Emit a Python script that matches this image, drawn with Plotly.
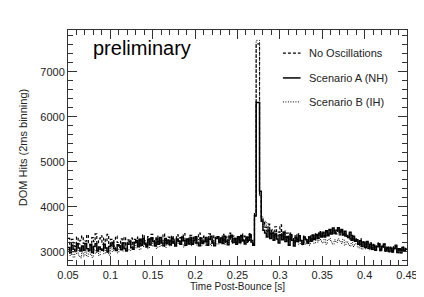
import plotly.graph_objects as go

bin_start = 0.05
bin_width = 0.002
n_bins = 200

no_osc = [
    3300,3150,3280,3200,3120,3330,3180,3260,3350,3190,
    3240,3380,3200,3150,3320,3230,3400,3180,3290,3360,
    3170,3310,3230,3390,3160,3280,3120,3250,3350,3210,
    3140,3290,3200,3330,3150,3270,3220,3310,3160,3280,
    3210,3330,3180,3290,3380,3220,3150,3340,3250,3390,
    3270,3170,3350,3230,3310,3200,3400,3260,3180,3330,
    3240,3360,3190,3300,3380,3210,3320,3250,3410,3230,
    3300,3180,3370,3260,3340,3200,3310,3420,3250,3190,
    3350,3230,3300,3400,3240,3190,3360,3280,3330,3220,
    3290,3390,3210,3330,3260,3420,3240,3350,3300,3200,
    3330,3240,3400,3270,3350,3210,3320,3410,3260,3180,
    3850,7620,7620,4250,3750,3650,3550,3460,3620,3400,
    3480,3350,3560,3320,3440,3600,3360,3470,3290,3420,
    3280,3420,3330,3220,3390,3280,3400,3260,3210,3350,
    3290,3230,3360,3270,3380,3300,3410,3340,3450,3360,
    3440,3360,3490,3390,3500,3420,3520,3430,3400,3510,
    3380,3470,3350,3420,3330,3400,3290,3370,3260,3330,
    3240,3180,3290,3160,3230,3130,3220,3120,3200,3090,
    3170,3070,3150,3200,3050,3130,3180,3040,3120,3060,
    3110,3030,3120,3150,3020,3090,3010,3110,3050,3080,
]

scenario_a = [
    3100,2980,3150,3060,3010,3180,3090,3020,3130,3040,
    3190,3070,3030,3160,2990,3120,3180,3020,3110,3060,
    3040,3170,3090,3000,3120,3150,3210,3070,3030,3160,
    3130,3050,3200,3080,3020,3170,3230,3100,3060,3210,
    3250,3120,3270,3150,3300,3180,3110,3280,3160,3310,
    3230,3130,3290,3170,3320,3200,3140,3300,3190,3260,
    3160,3310,3200,3130,3290,3230,3170,3330,3250,3150,
    3290,3180,3320,3170,3250,3340,3200,3140,3310,3190,
    3230,3320,3150,3280,3350,3200,3140,3300,3340,3210,
    3310,3190,3350,3240,3160,3330,3370,3210,3300,3170,
    3340,3210,3360,3250,3180,3330,3260,3380,3220,3150,
    3800,6320,6320,4350,3680,3480,3420,3330,3480,3300,
    3420,3260,3400,3290,3200,3380,3270,3430,3230,3340,
    3150,3380,3260,3130,3320,3230,3360,3250,3170,3330,
    3270,3200,3330,3240,3360,3280,3390,3300,3420,3330,
    3420,3330,3470,3360,3490,3400,3530,3410,3480,3540,
    3420,3500,3380,3460,3350,3320,3440,3260,3350,3240,
    3270,3170,3250,3120,3210,3100,3230,3080,3170,3060,
    3150,3040,3120,3180,3030,3110,3170,3020,3100,3010,
    3090,3000,3080,3130,2990,3070,2980,3100,3020,3060,
]

scenario_b = [
    3050,2920,3010,2880,2960,3060,2930,2870,3000,2910,
    3020,2900,3040,2950,2880,3060,2970,3070,2920,3030,
    3080,2960,3100,3000,2930,3110,3010,3130,3040,2980,
    3100,3160,3020,3120,3190,3060,3030,3170,3090,3200,
    3090,3200,3050,3230,3120,3250,3140,3080,3240,3130,
    3260,3140,3080,3230,3120,3290,3180,3100,3270,3160,
    3130,3240,3290,3150,3260,3180,3300,3160,3110,3280,
    3170,3290,3140,3250,3310,3190,3150,3300,3130,3270,
    3240,3150,3300,3190,3140,3280,3320,3180,3170,3300,
    3200,3310,3170,3290,3160,3270,3330,3190,3300,3220,
    3290,3180,3330,3220,3160,3310,3230,3340,3200,3170,
    3800,7700,7700,4250,3780,3560,3680,3480,3580,3380,
    3500,3320,3450,3270,3380,3490,3280,3400,3230,3330,
    3220,3340,3250,3180,3310,3220,3170,3260,3160,3220,
    3170,3250,3150,3230,3290,3190,3270,3220,3300,3240,
    3200,3280,3170,3260,3300,3220,3170,3270,3210,3290,
    3240,3190,3280,3150,3230,3180,3130,3210,3120,3180,
    3160,3090,3170,3060,3150,3070,3130,3050,3110,3040,
    3110,3030,3090,3130,3020,3080,3120,3010,3070,3000,
    3070,2990,3050,3090,2980,3040,2970,3060,3000,3050,
]

series_names = ["No Oscillations", "Scenario A (NH)", "Scenario B (IH)"]
x_ticks = [0.05, 0.1, 0.15, 0.2, 0.25, 0.3, 0.35, 0.4, 0.45]
x_ticklabels = ["0.05", "0.1", "0.15", "0.2", "0.25", "0.3", "0.35", "0.4", "0.45"]
y_ticks = [3000, 4000, 5000, 6000, 7000]

edges = [round(bin_start + i * bin_width, 4) for i in range(n_bins + 1)]

def step_y(vals):
    return list(vals) + [vals[-1]]

styles = [
    dict(color="black", width=1.2, dash="3px,2px"),
    dict(color="black", width=1.5, dash="solid"),
    dict(color="black", width=1.0, dash="1px,1.5px"),
]

fig = go.Figure()
for name, vals, st in zip(series_names, [no_osc, scenario_a, scenario_b], styles):
    fig.add_trace(go.Scatter(x=edges, y=step_y(vals), mode="lines", name=name,
                             line=dict(shape="hv", **st), showlegend=False))

font = "Liberation Sans, Arial, sans-serif"
axis_common = dict(showgrid=False, zeroline=False, showline=True, linecolor="#333",
                   linewidth=1, mirror="ticks", ticks="inside", ticklen=9, automargin=False,
                   tickcolor="#333", tickfont=dict(family=font, size=11, color="#222"))

fig.update_xaxes(range=[0.05, 0.45], tickvals=x_ticks, ticktext=x_ticklabels,
                 minor=dict(dtick=0.01, tick0=0.05, ticks="inside", ticklen=5, tickcolor="#333"),
                 title=dict(text="Time Post-Bounce [s]", font=dict(family=font, size=10, color="#222"),
                            standoff=2),
                 **axis_common)
fig.update_yaxes(range=[2710, 7930], tickvals=y_ticks,
                 minor=dict(dtick=200, tick0=3000, ticks="inside", ticklen=5, tickcolor="#333"),
                 title=dict(text="DOM Hits (2ms binning)", font=dict(family=font, size=11, color="#222"),
                            standoff=10),
                 **axis_common)

# legend drawn manually
leg_y = [0.902, 0.796, 0.694]
for name, st, ly in zip(series_names, styles, leg_y):
    fig.add_shape(type="line", xref="paper", yref="paper", x0=0.634, x1=0.686, y0=ly, y1=ly,
                  line=dict(color="black", width=st["width"], dash=st["dash"]))
    fig.add_annotation(xref="paper", yref="paper", x=0.705, y=ly, text=name, showarrow=False,
                       xanchor="left", yanchor="middle",
                       font=dict(family=font, size=11, color="#222"))

fig.add_annotation(xref="paper", yref="paper", x=0.068, y=0.923, text="preliminary", showarrow=False,
                   xanchor="left", yanchor="middle", font=dict(family=font, size=20, color="black"))

# page body has an 8px default margin, so the figure is sized to fit the 424x297 window
fig.update_layout(width=416, height=289, margin=dict(l=60, r=17, t=22, b=32),
                  plot_bgcolor="white", paper_bgcolor="white", showlegend=False)

fig.write_html("out.html")
